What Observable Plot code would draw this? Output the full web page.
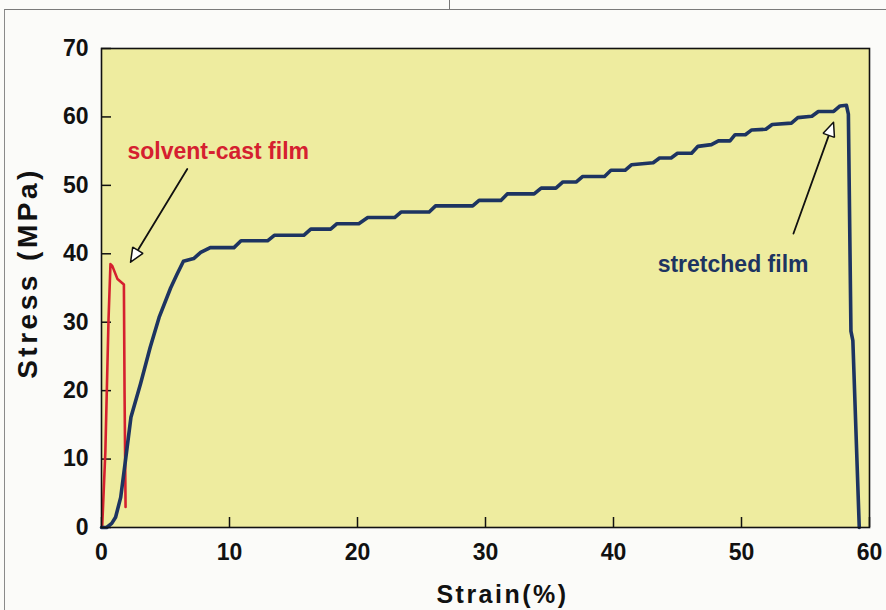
<!DOCTYPE html>
<html><head><meta charset="utf-8">
<script src="https://cdn.jsdelivr.net/npm/d3@7"></script>
<script src="https://cdn.jsdelivr.net/npm/@observablehq/plot@0.6"></script>
<style>
html,body{margin:0;padding:0;background:#fbfbf9;}
#wrap{position:relative;width:886px;height:610px;overflow:hidden;}
#scan{position:absolute;left:4px;top:9px;right:-4px;bottom:-4px;border-top:1.5px solid #7a7a7a;border-left:1.5px solid #8a8a8a;}
#notch{position:absolute;left:449px;top:0;width:0;height:9px;border-left:1px solid #777;}
#wrap svg{position:absolute;left:0;top:0;}
</style></head>
<body><div id="wrap"><div id="scan"></div><div id="notch"></div></div>
<script>
// ---- data ----
const xTicks = [0, 10, 20, 30, 40, 50, 60];
const yTicks = [0, 10, 20, 30, 40, 50, 60, 70];

const stretchedStrain = [0, 0.4, 0.8, 1.1, 1.5, 1.9, 2.3, 3.05, 3.8, 4.5, 5.4, 5.9, 6.4, 7.2, 7.75, 8.5,
  10.35, 10.9, 12.97, 13.5, 15.8, 16.35, 17.9, 18.4, 20.1, 20.8, 22.9, 23.4, 25.6, 26.1, 29.0, 29.5,
  31.2, 31.7, 33.8, 34.35, 35.5, 36.05, 37.1, 37.6, 39.3, 39.8, 40.9, 41.4, 43.1, 43.6, 44.5, 45.0,
  46.1, 46.6, 47.65, 48.2, 49.1, 49.5, 50.3, 50.8, 51.9, 52.4, 53.9, 54.4, 55.5, 56.0, 57.2, 57.7,
  58.2, 58.35, 58.55, 58.7, 59.2];
const stretchedStress = [0, 0, 0.6, 1.5, 4.4, 10.2, 16.1, 21, 26.3, 30.7, 35, 37, 38.9, 39.3, 40.2, 40.9,
  40.9, 41.9, 41.9, 42.7, 42.7, 43.6, 43.6, 44.4, 44.4, 45.3, 45.3, 46.1, 46.1, 47.0, 47.0, 47.8,
  47.8, 48.75, 48.75, 49.6, 49.6, 50.5, 50.5, 51.3, 51.3, 52.2, 52.2, 53.0, 53.3, 54.0, 54.0, 54.7,
  54.7, 55.7, 55.95, 56.5, 56.5, 57.4, 57.4, 58.1, 58.2, 58.9, 59.1, 59.9, 60.1, 60.8, 60.8, 61.6,
  61.7, 60.4, 28.7, 27.3, 0];

const castStrain = [0.05, 0.3, 0.55, 0.7, 0.85, 1.25, 1.75, 1.8, 1.88];
const castStress = [0, 11, 30.5, 38.5, 38.2, 36.3, 35.5, 20, 3];

const labelText = ["solvent-cast film", "stretched film"];
const labelStrain = [2.03, 43.45];
const labelStress = [53.78, 37.3];

const arrowTailStrain = [6.70, 54.06];
const arrowTailStress = [52.4, 42.96];
const arrowTipStrain = [2.27, 57.19];
const arrowTipStress = [38.77, 59.23];

const xTitle = "Strain(%)";
const yTitle = "Stress (MPa)";

// ---- layout ----
const W = 886, H = 610, ml = 101, mr = 17, mt = 48, mb = 83;
const RED = "#d5202f", NAVY = "#1d3461", YELLOW = "#eeec9f";
const FONT = "'Liberation Sans', Arial, Helvetica, sans-serif";

const stretched = stretchedStrain.map((s, i) => ({strain: s, stress: stretchedStress[i]}));
const cast = castStrain.map((s, i) => ({strain: s, stress: castStress[i]}));
const labels = labelText.map((t, i) => ({text: t, strain: labelStrain[i], stress: labelStress[i], series: i}));

const xs = Plot.scale({x: {domain: [0, 60], range: [ml, W - mr]}});
const ys = Plot.scale({y: {domain: [0, 70], range: [H - mb, mt]}});

const HEAD_L = 14, HEAD_W = 12;
const arrowMarks = arrowTailStrain.flatMap((_, i) => {
  const px1 = xs.apply(arrowTailStrain[i]), py1 = ys.apply(arrowTailStress[i]);
  const px2 = xs.apply(arrowTipStrain[i]), py2 = ys.apply(arrowTipStress[i]);
  const dx = px2 - px1, dy = py2 - py1, len = Math.hypot(dx, dy);
  const ux = dx / len, uy = dy / len, nx = -uy, ny = ux;
  const bx = px2 - ux * HEAD_L, by = py2 - uy * HEAD_L;
  const inv = ([a, b]) => ({strain: xs.invert(a), stress: ys.invert(b)});
  const shaft = [[px1, py1], [bx, by]].map(inv);
  const tri = [[px2, py2], [bx + nx * HEAD_W / 2, by + ny * HEAD_W / 2],
               [bx - nx * HEAD_W / 2, by - ny * HEAD_W / 2], [px2, py2]].map(inv);
  return [
    Plot.line(shaft, {x: "strain", y: "stress", stroke: "#111", strokeWidth: 1.8}),
    Plot.line(tri, {x: "strain", y: "stress", fill: "white", stroke: "#111", strokeWidth: 1.5, strokeLinejoin: "miter"})
  ];
});

const plot = Plot.plot({
  width: W, height: H,
  marginLeft: ml, marginRight: mr, marginTop: mt, marginBottom: mb,
  x: {domain: [0, 60]},
  y: {domain: [0, 70]},
  style: {fontFamily: FONT, background: "transparent", overflow: "visible"},
  marks: [
    Plot.frame({fill: YELLOW}),
    Plot.tickY(yTicks, {y: d => d, stroke: "#111", strokeWidth: 1.5, insetRight: W - ml - mr - 10}),
    Plot.tickX(xTicks, {x: d => d, stroke: "#111", strokeWidth: 1.5, insetTop: H - mt - mb - 10}),
    Plot.line(cast, {x: "strain", y: "stress", stroke: RED, strokeWidth: 2.6, strokeLinejoin: "round"}),
    Plot.line(stretched, {x: "strain", y: "stress", stroke: NAVY, strokeWidth: 3.6, strokeLinejoin: "round"}),
    ...arrowMarks,
    Plot.text(labels, {x: "strain", y: "stress", text: "text", textAnchor: "start", lineAnchor: "bottom",
      fill: d => d.series === 0 ? RED : NAVY, fontSize: 23, fontWeight: "bold"}),
    Plot.frame({stroke: "#111", strokeWidth: 1.6}),
    Plot.axisY(yTicks, {tickSize: 0, tickPadding: 13, fontSize: 23, fontWeight: "bold", fill: "#111", label: null}),
    Plot.axisX(xTicks, {tickSize: 0, tickPadding: 16, fontSize: 23, fontWeight: "bold", fill: "#111", label: null}),
    Plot.text([yTitle], {frameAnchor: "left", textAnchor: "middle", lineAnchor: "middle", dx: -73, dy: -15, rotate: -90,
      fontSize: 28, fontWeight: "bold", fill: "#111"}),
    Plot.text([xTitle], {frameAnchor: "bottom", textAnchor: "middle", lineAnchor: "bottom", dx: 17, dy: 75,
      fontSize: 25, fontWeight: "bold", fill: "#111"})
  ]
});
d3.select(plot).selectAll("text")
  .filter(function () { return this.textContent === yTitle; })
  .style("letter-spacing", "3.5px");
d3.select(plot).selectAll("text")
  .filter(function () { return this.textContent === xTitle; })
  .style("letter-spacing", "2.5px");
document.getElementById("wrap").appendChild(plot);
</script>
</body></html>
